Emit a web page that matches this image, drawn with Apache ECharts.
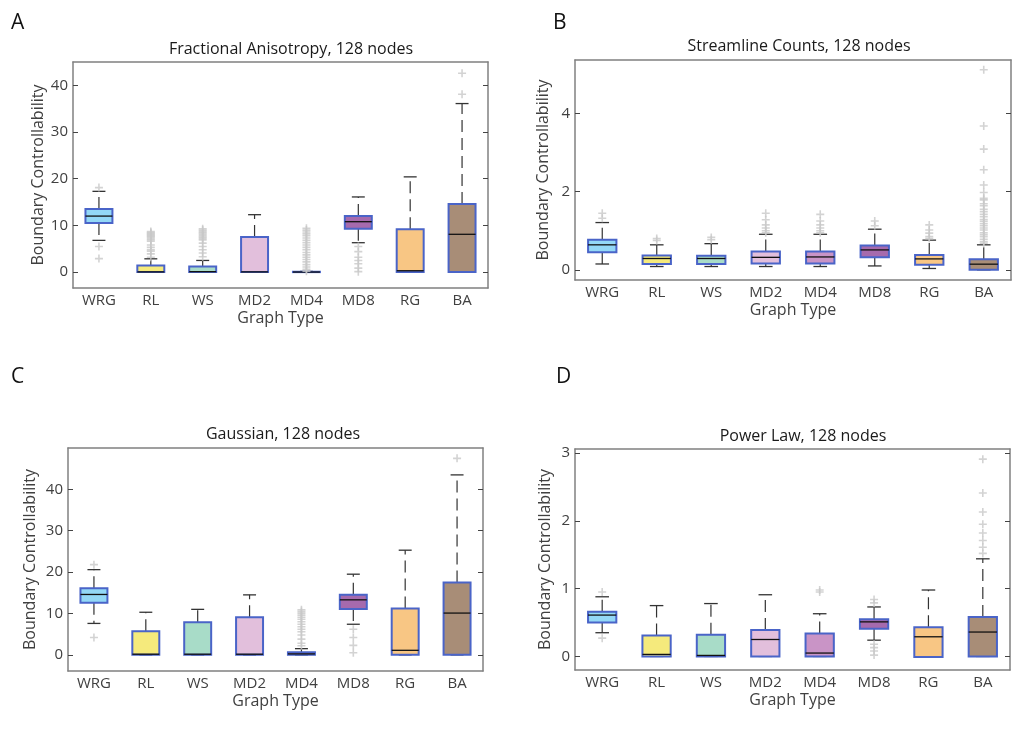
<!DOCTYPE html>
<html>
<head>
<meta charset="utf-8">
<script src="https://cdn.jsdelivr.net/npm/echarts@6/dist/echarts.min.js"></script>
<style>
  html, body { margin: 0; padding: 0; background: #fff; }
  #chart { width: 1015px; height: 737px; }
</style>
</head>
<body>
<div id="chart"></div>
<script>
// ── 数据 ──

const categories = ['WRG', 'RL', 'WS', 'MD2', 'MD4', 'MD8', 'RG', 'BA']

// 每组: [下须, Q1, 中位数, Q3, 上须]
const statsFA = [
  [6.8, 10.5, 12.0, 13.5, 17.3],
  [0, 0, 0.05, 1.4, 2.85],
  [0, 0, 0.1, 1.2, 2.5],
  [0, 0, 0.05, 7.5, 12.3],
  [0, 0, 0.02, 0.08, 0.15],
  [6.3, 9.3, 10.8, 12.0, 16.1],
  [0, 0, 0.3, 9.2, 20.4],
  [0, 0, 8.1, 14.6, 36.1],
]
const outliersFA = [
  [2.9, 5.5, 18.1],
  [3.2, 3.9, 4.5, 4.8, 5.3, 5.8, 6.6, 6.9, 7.2, 7.5, 7.7, 7.9, 8.1, 8.3, 8.5, 8.7],
  [3.3, 4.1, 4.8, 5.5, 6.2, 6.9, 7.2, 7.5, 7.8, 8.1, 8.4, 8.7, 9.0, 9.3],
  [],
  [0.2, 0.6, 1.1, 1.6, 2.2, 2.7, 3.2, 3.7, 4.2, 4.8, 5.3, 5.8, 6.3, 6.8, 7.3, 7.8, 8.2, 8.6, 9.0, 9.4],
  [0.1, 0.85, 1.8, 2.5, 3.2, 4.4, 5.5],
  [],
  [38.1, 42.6],
]

const statsSC = [
  [0.15, 0.45, 0.64, 0.77, 1.21],
  [0.085, 0.15, 0.29, 0.37, 0.64],
  [0.085, 0.15, 0.29, 0.36, 0.67],
  [0.085, 0.16, 0.32, 0.47, 0.91],
  [0.085, 0.16, 0.33, 0.47, 0.91],
  [0.10, 0.32, 0.51, 0.62, 1.04],
  [0.035, 0.13, 0.28, 0.38, 0.76],
  [0, 0, 0.145, 0.27, 0.64],
]
const outliersSC = [
  [1.32, 1.45],
  [0.75, 0.8],
  [0.77, 0.83],
  [0.95, 1.0, 1.07, 1.15, 1.28, 1.45],
  [0.95, 1.0, 1.07, 1.15, 1.25, 1.42],
  [1.13, 1.25],
  [0.8, 0.85, 0.94, 1.02, 1.15],
  [0.68, 0.72, 0.78, 0.85, 0.9, 0.95, 1.02, 1.07, 1.13, 1.18, 1.24, 1.29, 1.36, 1.42,
    1.49, 1.55, 1.64, 1.69, 1.79, 1.83, 1.98, 2.17, 2.56, 3.09, 3.68, 5.12],
]

const statsG = [
  [7.6, 12.6, 14.6, 16.1, 20.6],
  [0, 0, 0.16, 5.7, 10.3],
  [0, 0, 0.16, 7.9, 11.0],
  [0, 0, 0.16, 9.1, 14.5],
  [0, 0, 0.24, 0.65, 1.5],
  [7.4, 11.1, 13.3, 14.5, 19.5],
  [0, 0, 1.1, 11.2, 25.3],
  [0, 0, 10.1, 17.5, 43.5],
]
const outliersG = [
  [4.2, 21.8],
  [],
  [],
  [],
  [2.2, 2.8, 3.8, 4.8, 5.6, 6.2, 6.8, 7.4, 8.0, 8.6, 9.1, 9.6, 10.1, 10.5, 10.9],
  [0.5, 2.3, 4.2, 6.2],
  [],
  [47.5],
]

const statsPL = [
  [0.35, 0.50, 0.61, 0.66, 0.88],
  [0, 0, 0.03, 0.31, 0.75],
  [0, 0, 0.015, 0.32, 0.78],
  [0, 0, 0.25, 0.39, 0.91],
  [0, 0, 0.05, 0.34, 0.63],
  [0.24, 0.41, 0.51, 0.55, 0.73],
  [-0.01, -0.01, 0.29, 0.43, 0.98],
  [0, 0, 0.36, 0.58, 1.44],
]
const outliersPL = [
  [0.27, 0.95],
  [],
  [],
  [],
  [0.95, 0.98],
  [0.02, 0.08, 0.13, 0.18, 0.79, 0.84],
  [],
  [1.52, 1.61, 1.71, 1.82, 1.95, 2.13, 2.41, 2.91],
]

const ticksFA = [0, 10, 20, 30, 40]
const ticksSC = [0, 2, 4]
const ticksG = [0, 10, 20, 30, 40]
const ticksPL = [0, 1, 2, 3]

// ── 样式 ──

const FONT = 'Open Sans'
const fills = ['#93d8f6', '#f5ea7c', '#a8dcc8', '#e2bfdc', '#c994c6', '#a66aad', '#f8c684', '#a88d77']
const boxEdge = '#4a64c8'
const frame = '#808080'
const plusPath = 'path://M4,0H6V4H10V6H6V10H4V6H0V4H4Z'

const panels = [
  { letter: 'A', title: 'Fractional Anisotropy, 128 nodes', stats: statsFA, out: outliersFA, ticks: ticksFA,
    min: -3.4, max: 45, grid: { left: 73, top: 62, width: 415, height: 226 },
    titlePos: [286, 36], letterPos: [6, 8], yGap: 27 },
  { letter: 'B', title: 'Streamline Counts, 128 nodes', stats: statsSC, out: outliersSC, ticks: ticksSC,
    min: -0.26, max: 5.37, grid: { left: 575, top: 60, width: 436, height: 220 },
    titlePos: [794, 33], letterPos: [548, 8], yGap: 24 },
  { letter: 'C', title: 'Gaussian, 128 nodes', stats: statsG, out: outliersG, ticks: ticksG,
    min: -3.9, max: 50, grid: { left: 68, top: 448, width: 415, height: 223 },
    titlePos: [278, 421], letterPos: [6, 362], yGap: 30 },
  { letter: 'D', title: 'Power Law, 128 nodes', stats: statsPL, out: outliersPL, ticks: ticksPL,
    min: -0.2, max: 3.06, grid: { left: 575, top: 449, width: 435, height: 221 },
    titlePos: [798, 423], letterPos: [551, 362], yGap: 22 },
]

// ── 箱线绘制 ──

function renderBox(params, api) {
  const i = api.value(0)
  const lo = api.coord([i, api.value(1)])
  const q1 = api.coord([i, api.value(2)])
  const md = api.coord([i, api.value(3)])
  const q3 = api.coord([i, api.value(4)])
  const hi = api.coord([i, api.value(5)])
  const band = api.size([1, 0])[0]
  const bw = band * 0.52
  const cw = band * 0.25
  const x = lo[0]
  const whisker = { stroke: '#333', lineWidth: 1.2, lineDash: [12, 6] }
  const cap = { stroke: '#333', lineWidth: 1.3 }
  return {
    type: 'group',
    children: [
      { type: 'line', shape: { x1: x, y1: q3[1], x2: x, y2: hi[1] }, style: whisker },
      { type: 'line', shape: { x1: x, y1: q1[1], x2: x, y2: lo[1] }, style: whisker },
      { type: 'line', shape: { x1: x - cw / 2, y1: hi[1], x2: x + cw / 2, y2: hi[1] }, style: cap },
      { type: 'line', shape: { x1: x - cw / 2, y1: lo[1], x2: x + cw / 2, y2: lo[1] }, style: cap },
      { type: 'rect', shape: { x: x - bw / 2, y: q3[1], width: bw, height: q1[1] - q3[1] },
        style: { fill: fills[i], stroke: boxEdge, lineWidth: 2 } },
      { type: 'line', shape: { x1: x - bw / 2, y1: md[1], x2: x + bw / 2, y2: md[1] },
        style: { stroke: '#111', lineWidth: 1.3 } },
    ],
  }
}

// ── 组装 ──

const grid = [], xAxis = [], yAxis = [], series = [], title = []

panels.forEach((p, k) => {
  grid.push(p.grid)
  title.push({ text: p.title, left: p.titlePos[0], top: p.titlePos[1], textAlign: 'center',
    textStyle: { fontFamily: FONT, fontSize: 16, fontWeight: 'normal', color: '#1a1a1a' } })
  title.push({ text: p.letter, left: p.letterPos[0], top: p.letterPos[1],
    textStyle: { fontFamily: FONT, fontSize: 21, fontWeight: 'normal', color: '#111' } })

  const xCommon = {
    type: 'category', data: categories, gridIndex: k,
    axisLine: { onZero: false, lineStyle: { color: frame, width: 1.5 } },
    axisTick: { inside: true, alignWithLabel: true, length: 5, lineStyle: { color: '#444' } },
    splitLine: { show: false },
  }
  xAxis.push({ ...xCommon, position: 'bottom',
    axisLabel: { fontFamily: FONT, fontSize: 15, color: '#404040', margin: 5 },
    name: 'Graph Type', nameLocation: 'middle', nameGap: 22,
    nameTextStyle: { fontFamily: FONT, fontSize: 16, color: '#404040' } })
  xAxis.push({ ...xCommon, position: 'top', axisLabel: { show: false } })

  const yCommon = {
    type: 'value', gridIndex: k, min: p.min, max: p.max,
    axisLine: { show: true, onZero: false, lineStyle: { color: frame, width: 1.5 } },
    axisTick: { show: true, inside: true, length: 5, customValues: p.ticks, lineStyle: { color: '#444' } },
    splitLine: { show: false },
  }
  yAxis.push({ ...yCommon, position: 'left',
    axisLabel: { customValues: p.ticks, fontFamily: FONT, fontSize: 15, color: '#404040', margin: 5 },
    name: 'Boundary Controllability', nameLocation: 'middle', nameGap: p.yGap,
    nameTextStyle: { fontFamily: FONT, fontSize: 16, color: '#404040' } })
  yAxis.push({ ...yCommon, position: 'right', axisLabel: { show: false } })

  series.push({
    type: 'custom', xAxisIndex: 2 * k, yAxisIndex: 2 * k, z: 2,
    renderItem: renderBox,
    data: p.stats.map((s, i) => [i, ...s]),
  })
  series.push({
    type: 'scatter', xAxisIndex: 2 * k, yAxisIndex: 2 * k, z: 3,
    symbol: plusPath, symbolSize: 8, itemStyle: { color: '#c8c8c8' },
    data: p.out.flatMap((vals, i) => vals.map(v => [i, v])),
  })
})

const chart = echarts.init(document.getElementById('chart'), undefined, { renderer: 'canvas' })
chart.setOption({
  animation: false,
  backgroundColor: '#fff',
  textStyle: { fontFamily: FONT },
  title, grid, xAxis, yAxis, series,
})
</script>
</body>
</html>
